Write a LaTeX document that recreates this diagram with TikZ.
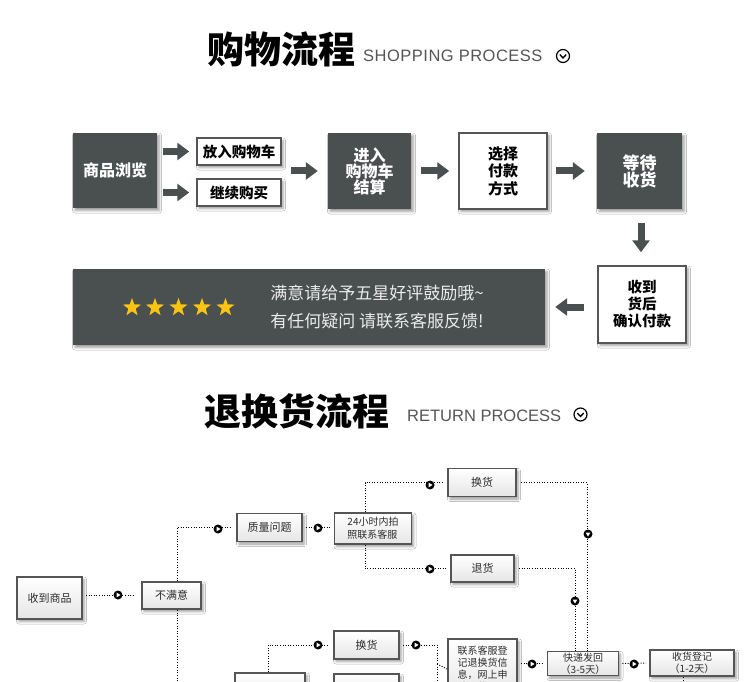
\documentclass[tikz,border=0pt]{standalone}
\usepackage{fontspec}
\setmainfont{Liberation Sans}
\newfontfamily\cjk{Noto Sans CJK SC}
\newfontfamily\enw[LetterSpace=3]{Liberation Sans}
\usetikzlibrary{arrows.meta,shapes.geometric,shadows.blur,calc}
\definecolor{dk}{RGB}{74,79,80}
\definecolor{bd}{RGB}{85,85,85}
\definecolor{starc}{RGB}{252,196,18}
\definecolor{eng}{RGB}{85,85,85}
\definecolor{txt}{RGB}{45,45,45}
\begin{document}
\begin{tikzpicture}[x=1pt,y=-1pt,
  shad/.style={blur shadow={shadow xshift=2pt,shadow yshift=-2.5pt,shadow blur radius=2.5pt,shadow opacity=40}},
  darkbox/.style={shad,fill=dk,text=white,inner sep=0pt,align=center},
  whitebox/.style={shad,fill=white,draw=bd,line width=1.5pt,inner sep=0pt,align=center},
  bbox/.style={shad,draw=bd,line width=1.8pt,top color=white,bottom color=black!10,inner sep=0pt,align=center,text=txt,font=\cjk\fontsize{11}{11}\selectfont},
  bigarrow/.style={draw=dk,line width=7pt,-{Triangle[length=12pt,width=17pt]}},
  dl/.style={draw=black,line width=1pt,dash pattern=on 1pt off 1.6pt},
  mkr/.style={circle,fill=black,minimum size=9pt,inner sep=0pt,
    path picture={\fill[white] ($(path picture bounding box.center)+(-1.3,-2.3)$) -- ++(0,4.6) -- ++(3.8,-2.3) -- cycle;}},
  mkd/.style={circle,fill=black,minimum size=9pt,inner sep=0pt,
    path picture={\fill[white] ($(path picture bounding box.center)+(-2.3,-1.3)$) -- ++(4.6,0) -- ++(-2.3,3.8) -- cycle;}},
  titlef/.style={inner sep=0pt,font=\cjk\bfseries\fontsize{37}{37}\selectfont},
  engf/.style={inner sep=0pt,anchor=base west,text=eng,font=\enw\fontsize{16.5}{16.5}\selectfont},
  icon/.style={circle,draw=black,line width=1.2pt,minimum size=13pt,inner sep=0pt},
  staricon/.style={star,star points=5,star point ratio=2.45,fill=starc,minimum size=19pt,inner sep=0pt}
]
\useasboundingbox (0,0) rectangle (750,682);
\clip (0,0) rectangle (750,682);
\fill[white] (0,0) rectangle (750,682);

% ---------- title 1
\node[titlef] (t1) at (281.5,49) {购物流程};
\node[engf] (e1) at (363,62) {SHOPPING PROCESS};
\node[icon] (i1) at (563,56) {};
\draw[line width=1.3pt] ($(i1.center)+(-3.2,-1.4)$) -- ($(i1.center)+(0,1.9)$) -- ($(i1.center)+(3.2,-1.4)$);

% ---------- shopping flow
\node[darkbox,minimum width=84pt,minimum height=75pt,font=\cjk\bfseries\fontsize{16}{16}\selectfont] (browse) at (115,170.5) {商品浏览};
\node[whitebox,minimum width=84pt,minimum height=27pt,font=\cjk\bfseries\fontsize{14.5}{14.5}\selectfont] (cart) at (239,151.5) {放入购物车};
\node[whitebox,minimum width=84pt,minimum height=27pt,font=\cjk\bfseries\fontsize{14.5}{14.5}\selectfont] (cont) at (239,192.5) {继续购买};
\node[darkbox,minimum width=83pt,minimum height=76pt,font=\cjk\bfseries\fontsize{16}{16}\selectfont] (settle) at (369.5,171) {进入\\购物车\\结算};
\node[whitebox,minimum width=88pt,minimum height=76pt,font=\cjk\bfseries\fontsize{15}{17.5}\selectfont] (pay) at (503,171) {选择\\付款\\方式};
\node[darkbox,minimum width=85pt,minimum height=76pt,font=\cjk\bfseries\fontsize{17}{17}\selectfont] (wait) at (639.5,171) {等待\\收货};
\node[whitebox,minimum width=88pt,minimum height=77pt,font=\cjk\bfseries\fontsize{14.5}{17}\selectfont] (confirm) at (642,304.5) {收到\\货后\\确认付款};
\node[darkbox,minimum width=472pt,minimum height=76pt] (big) at (309,307) {};
\node[inner sep=0pt,align=center,text=white!92!black,font=\cjk\fontsize{17}{28}\selectfont] (msg) at (377,307) {满意请给予五星好评鼓励哦\symbol{"7E}\\有任何疑问 请联系客服反馈!};
\foreach \i/\x in {1/132,2/155,3/178.5,4/202,5/225.5}{
  \node[staricon] (s\i) at (\x,307.5) {};
}

\draw[bigarrow,shorten <=6pt,shorten >=7pt] (browse.east |- cart.west) -- (cart.west);
\draw[bigarrow,shorten <=6pt,shorten >=7pt] (browse.east |- cont.west) -- (cont.west);
\draw[bigarrow,shorten <=9pt,shorten >=10pt] (cart.east |- settle.west) -- (settle.west);
\draw[bigarrow,shorten <=10pt,shorten >=9pt] (settle.east) -- (pay.west);
\draw[bigarrow,shorten <=8pt,shorten >=12pt] (pay.east) -- (wait.west);
\coordinate (w1) at ([xshift=1.5pt]wait.south);
\draw[bigarrow,shorten <=14pt,shorten >=13pt] (w1) -- (w1 |- confirm.north);
\draw[bigarrow,shorten <=13pt,shorten >=10pt] (confirm.west |- big.east) -- (big.east);

% ---------- title 2
\node[titlef] (t2) at (297,411.5) {退换货流程};
\node[engf,font=\fontsize{16.5}{16.5}\selectfont] (e2) at (407,421) {RETURN PROCESS};
\node[icon] (i2) at (580.5,414.5) {};
\draw[line width=1.3pt] ($(i2.center)+(-3.2,-1.4)$) -- ($(i2.center)+(0,1.9)$) -- ($(i2.center)+(3.2,-1.4)$);

% ---------- return flow
\node[bbox,minimum width=65pt,minimum height=42pt] (recv) at (49.5,598) {收到商品};
\node[bbox,minimum width=59pt,minimum height=27pt] (unsat) at (171.5,595.5) {不满意};
\node[bbox,minimum width=65pt,minimum height=28pt] (quality) at (269.5,527.5) {质量问题};
\node[bbox,minimum width=77pt,minimum height=31pt,align=left,font=\cjk\fontsize{10}{13}\selectfont] (h24) at (373,528.5) {24小时内拍\\照联系客服};
\node[bbox,minimum width=68pt,minimum height=28pt] (exch1) at (482,482.5) {换货};
\node[bbox,minimum width=63pt,minimum height=27pt] (ret1) at (482.5,568.5) {退货};
\node[bbox,minimum width=65pt,minimum height=28pt] (exch2) at (366.5,645) {换货};
\node[bbox,minimum width=70pt,minimum height=30pt] (boxA) at (270,688) {};
\node[bbox,minimum width=65pt,minimum height=28pt] (boxB) at (366.5,688) {};
\node[bbox,minimum width=69pt,minimum height=60pt,align=left,font=\cjk\fontsize{10}{12}\selectfont] (contact) at (482.5,669) {联系客服登\\记退换货信\\息，网上申\\请退款};
\node[bbox,minimum width=71pt,minimum height=24pt,font=\cjk\fontsize{10}{12}\selectfont] (express) at (583,663.5) {快递发回\\（3-5天）};
\node[bbox,minimum width=84pt,minimum height=26pt,font=\cjk\fontsize{10}{12}\selectfont] (recvreg) at (692,663) {收货登记\\（1-2天）};

\draw[dl,shorten <=3pt,shorten >=8pt] (recv.east |- unsat.west) -- (unsat.west);
\draw[dl,shorten >=4pt] ([xshift=5.5pt]unsat.north) |- (quality.west);
\draw[dl,shorten >=4pt] ([xshift=5.5pt]unsat.south) |- (boxA.west);
\draw[dl,shorten <=3pt,shorten >=3pt] (quality.east) -- (quality.east -| h24.west);
\draw[dl,shorten >=4pt] ([xshift=-8pt]h24.north) |- (exch1.west);
\draw[dl,shorten >=4pt] ([xshift=-8pt]h24.south) |- (ret1.west);
\draw[dl,shorten <=4pt] (exch1.east) -| ([xshift=4pt]express.north);
\draw[dl,shorten <=4pt] (ret1.east) -| ([xshift=-8pt]express.north);
\draw[dl,shorten >=4pt] ([xshift=-2pt]boxA.north) |- (exch2.west);
\draw[dl,shorten <=3pt,shorten >=3pt] (boxA.east) -- (boxB.west);
\coordinate (jn) at (437,664);
\draw[dl,shorten <=3pt] (exch2.east) -| (jn);
\draw[dl,shorten <=3pt] (boxB.east) -| (jn);
\draw[dl] (jn) -- (contact.west);
\draw[dl,shorten <=3pt,shorten >=3pt] (contact.east |- express.west) -- (express.west);
\draw[dl,shorten <=3pt,shorten >=3pt] (express.east) -- (recvreg.west);
\draw[dl] ([xshift=-9pt]recvreg.south) -- ++(0,20);

\node[mkr] (m1) at (118,595) {};
\node[mkr] (m2) at (218,529) {};
\node[mkr] (m3) at (318,528) {};
\node[mkr] (m4) at (430,485) {};
\node[mkr] (m5) at (430,569) {};
\node[mkd] (m6) at (588,534) {};
\node[mkd] (m7) at (575,601) {};
\node[mkr] (m8) at (318,645) {};
\node[mkr] (m9) at (416,645) {};
\node[mkr] (m10) at (532,664) {};
\node[mkr] (m11) at (634,664) {};
\node[mkr] (m12) at (318,688) {};
\node[mkr] (m13) at (416,688) {};
\node[mkr] (m14) at (218,688) {};
\end{tikzpicture}
\end{document}
